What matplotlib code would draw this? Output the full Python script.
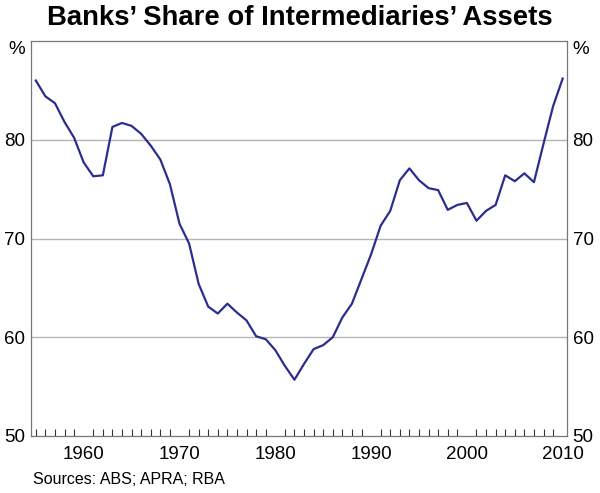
"""Banks' share of intermediaries' assets, 1955-2010."""
import matplotlib
matplotlib.use("Agg")
import matplotlib.pyplot as plt
from matplotlib.ticker import FixedLocator, MultipleLocator

plt.rcParams["font.family"] = ["Liberation Sans", "DejaVu Sans"]

years = list(range(1955, 2011))
share = [
    86.0, 84.4, 83.7, 81.8, 80.2, 77.7, 76.3, 76.4, 81.3, 81.7,
    81.4, 80.6, 79.4, 78.0, 75.5, 71.5, 69.5, 65.4, 63.1, 62.4,
    63.4, 62.5, 61.7, 60.1, 59.8, 58.7, 57.1, 55.7, 57.3, 58.8,
    59.2, 60.0, 62.0, 63.4, 65.9, 68.4, 71.3, 72.8, 75.9, 77.1,
    75.9, 75.1, 74.9, 72.9, 73.4, 73.6, 71.8, 72.8, 73.4, 76.4,
    75.8, 76.6, 75.7, 79.6, 83.4, 86.2,
]
y_ticks = [50, 60, 70, 80, 90]
y_labels = ["50", "60", "70", "80", "%"]
x_labels = [1960, 1970, 1980, 1990, 2000, 2010]

dpi = 100
fig = plt.figure(figsize=(600 / dpi, 493 / dpi), dpi=dpi)
ax = fig.add_axes([31 / 600, 1 - 436 / 493, 536 / 600, 395 / 493])

ax.plot(years, share, color="#2b2e8c", linewidth=1.6, zorder=3)

ax.set_xlim(1954.5, 2010.45)
ax.set_ylim(50, 90)

ax.yaxis.set_major_locator(FixedLocator(y_ticks))
ax.set_yticklabels(y_labels)
ax.tick_params(axis="y", length=0, labelsize=13.5, pad=4,
               left=True, right=True, labelleft=True, labelright=True)
# the "%" unit sits just below the top edge, not centred on it
top_tick = ax.yaxis.get_major_ticks()[-1]
top_tick.label1.set_verticalalignment("top")
top_tick.label2.set_verticalalignment("top")

for y in [60, 70, 80]:
    ax.axhline(y, color="#b4b4b4", linewidth=1.0, zorder=1)

ax.xaxis.set_major_locator(FixedLocator(x_labels))
ax.xaxis.set_minor_locator(MultipleLocator(1))
ax.tick_params(axis="x", which="major", length=0, labelsize=13.5, pad=7)
ax.tick_params(axis="x", which="minor", direction="in", length=5,
               width=0.8, color="#333333")

for spine in ax.spines.values():
    spine.set_color("#777777")
    spine.set_linewidth(0.9)

fig.text(0.5, 0.963, "Banks\u2019 Share of Intermediaries\u2019 Assets",
         ha="center", va="center", fontsize=19.8, fontweight="bold")
fig.text(33 / 600, 1 - 480 / 493, "Sources: ABS; APRA; RBA",
         ha="left", va="center", fontsize=11.5)

fig.savefig("out.png", dpi=dpi)
